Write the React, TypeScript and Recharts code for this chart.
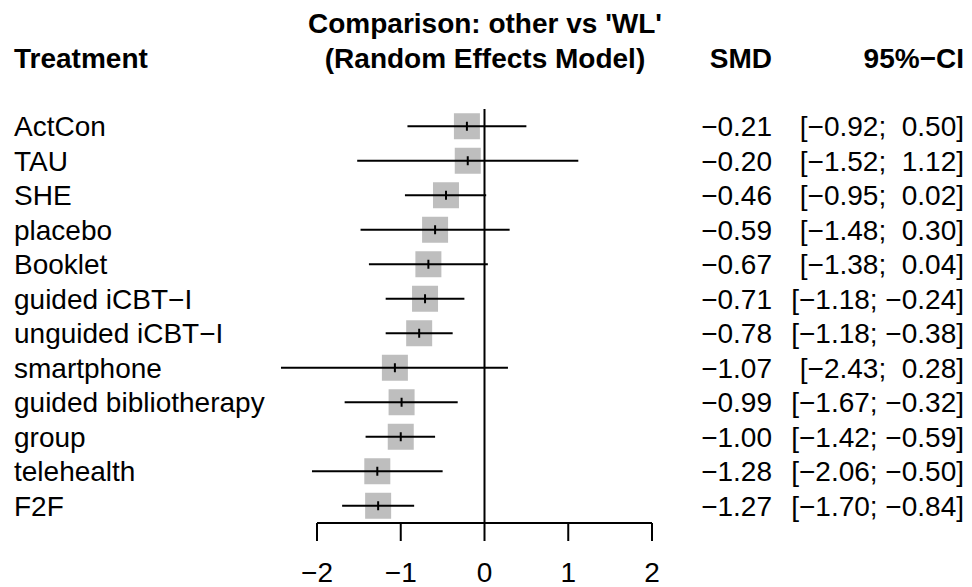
import React from 'react'
import { ScatterChart, Scatter, XAxis, YAxis, ErrorBar, ReferenceLine, Customized } from 'recharts'

const treatments = ['ActCon', 'TAU', 'SHE', 'placebo', 'Booklet', 'guided iCBT\u2212I', 'unguided iCBT\u2212I', 'smartphone', 'guided bibliotherapy', 'group', 'telehealth', 'F2F']
const smd = [-0.21, -0.20, -0.46, -0.59, -0.67, -0.71, -0.78, -1.07, -0.99, -1.00, -1.28, -1.27]
const lower = [-0.92, -1.52, -0.95, -1.48, -1.38, -1.18, -1.18, -2.43, -1.67, -1.42, -2.06, -1.70]
const upper = [0.50, 1.12, 0.02, 0.30, 0.04, -0.24, -0.38, 0.28, -0.32, -0.59, -0.50, -0.84]
const xTicks = [-2, -1, 0, 1, 2]

const FONT = '"Liberation Sans", Arial, Helvetica, sans-serif'

const rows = treatments.map((name, i) => ({
  name,
  row: i + 1,
  smd: smd[i],
  lo: lower[i],
  hi: upper[i],
  err: [smd[i] - lower[i], upper[i] - smd[i]],
}))

const minus = (v: number) => v.toFixed(2).replace('-', '\u2212')
const ciText = (lo: number, hi: number) => `[${minus(lo)}; ${hi >= 0 ? ' ' : ''}${minus(hi)}]`

function RowTick(props: any) {
  const { y, payload } = props
  const r = rows[payload.value - 1]
  if (!r) return null
  const base = y + 10
  return (
    <g fontFamily={FONT} fontSize={28} fill='#000'>
      <text x={14} y={base} textAnchor='start'>{r.name}</text>
      <text x={772} y={base} textAnchor='end'>{minus(r.smd)}</text>
      <text x={964} y={base} textAnchor='end' style={{ whiteSpace: 'pre' }}>{ciText(r.lo, r.hi)}</text>
    </g>
  )
}

function Header() {
  return (
    <g fontFamily={FONT} fontSize={28} fontWeight='bold' fill='#000'>
      <text x={485} y={33} textAnchor='middle'>Comparison: other vs 'WL'</text>
      <text x={485} y={68} textAnchor='middle'>(Random Effects Model)</text>
      <text x={14} y={68}>Treatment</text>
      <text x={772} y={68} textAnchor='end'>SMD</text>
      <text x={964} y={68} textAnchor='end'>95%{'\u2212'}CI</text>
    </g>
  )
}

const Square = (p: any) => <rect x={p.cx - 13} y={p.cy - 13} width={26} height={26} fill='#bebebe' />
const Mark = (p: any) => <line x1={p.cx} x2={p.cx} y1={p.cy - 4.5} y2={p.cy + 4.5} stroke='#000' strokeWidth={2} />

export default function App() {
  return (
    <div style={{ position: 'absolute', left: 0, top: 0, width: 972, height: 587, background: '#fff' }}>
      {/* CI lines may run past the -2 end of the axis, as in the original */}
      <style>{`.recharts-surface g[clip-path] { clip-path: none !important; }`}</style>
      <ScatterChart width={972} height={587} margin={{ top: 109, right: 320, bottom: 4, left: 316 }}>
        <XAxis
          type='number'
          dataKey='smd'
          domain={[-2, 2]}
          allowDataOverflow
          ticks={xTicks}
          interval={0}
          height={60}
          tickSize={18}
          tickMargin={21}
          tickFormatter={(v: number) => String(v).replace('-', '\u2212')}
          tick={{ fontSize: 28, fill: '#000', fontFamily: FONT }}
          axisLine={{ stroke: '#000', strokeWidth: 2 }}
          tickLine={{ stroke: '#000', strokeWidth: 2 }}
        />
        <YAxis
          type='number'
          dataKey='row'
          domain={[0.5, 12.5]}
          allowDataOverflow
          reversed
          ticks={rows.map(r => r.row)}
          interval={0}
          width={1}
          axisLine={false}
          tickLine={false}
          tick={<RowTick />}
        />
        <ReferenceLine x={0} stroke='#000' strokeWidth={2} />
        <Scatter data={rows} shape={<Square />} isAnimationActive={false} zIndex={100} />
        <Scatter data={rows} shape={<Mark />} isAnimationActive={false} zIndex={700}>
          <ErrorBar dataKey='err' direction='x' width={0} stroke='#000' strokeWidth={2} zIndex={700} />
        </Scatter>
        <Customized component={Header} />
      </ScatterChart>
    </div>
  )
}
